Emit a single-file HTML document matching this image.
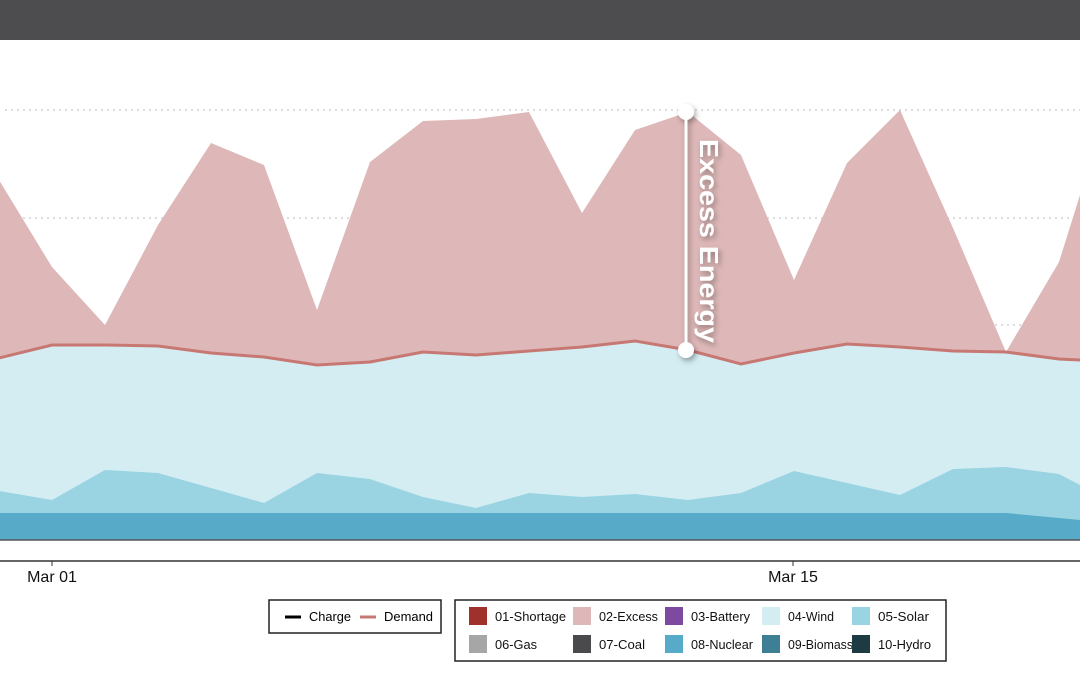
<!DOCTYPE html>
<html><head><meta charset="utf-8"><style>
html,body{margin:0;padding:0;width:1080px;height:675px;overflow:hidden;background:#fff;font-family:"Liberation Sans",sans-serif}
</style></head><body>
<svg width="1080" height="675" xmlns="http://www.w3.org/2000/svg" font-family="Liberation Sans, sans-serif">
<defs><filter id="sh" x="-50%" y="-50%" width="200%" height="200%"><feDropShadow dx="2" dy="3" stdDeviation="3" flood-color="#000" flood-opacity="0.35"/></filter></defs>
<rect x="0" y="0" width="1080" height="40" fill="#4d4d4f"/>
<g stroke="#bbb" stroke-dasharray="2,4" stroke-width="1">
<line x1="5" y1="110" x2="1080" y2="110"/><line x1="5" y1="218" x2="1080" y2="218"/><line x1="5" y1="325" x2="1080" y2="325"/>
</g>
<polygon fill="#deb8b8" points="-1,540 -1,180 52,267 105,325 158,225 211,143 264,165 317,310 370,162 423,121 476,119 529,112 582,213 635,130 688,112 741,155 794,280 847,163 900,110 953,228 1006,352 1059,262 1080,195 1080,540"/>
<polygon fill="#d4edf3" points="-1,540 -1,358 52,345 105,345 158,346 211,353 264,357 317,365 370,362 423,352 476,355 529,351 582,347 635,341 688,350 741,364 794,353 847,344 900,347 953,351 1006,352 1059,359 1080,360 1080,540"/>
<polygon fill="#9ad4e2" points="-1,540 -1,491 52,500 105,470 158,473 211,488 264,503 317,473 370,479 423,497 476,508 529,493 582,497 635,494 688,500 741,493 794,471 847,483 900,495 953,469 1006,467 1059,474 1080,485 1080,540"/>
<polygon fill="#57abc9" points="-1,540 -1,513 1006,513 1059,518 1080,520 1080,540"/>
<polyline fill="none" stroke="#c77873" stroke-width="3" points="-1,358 52,345 105,345 158,346 211,353 264,357 317,365 370,362 423,352 476,355 529,351 582,347 635,341 688,350 741,364 794,353 847,344 900,347 953,351 1006,352 1059,359 1080,360"/>
<line x1="0" y1="540" x2="1080" y2="540" stroke="#555" stroke-width="1.5"/>
<line x1="0" y1="561" x2="1080" y2="561" stroke="#333" stroke-width="1.5"/>
<line x1="52" y1="561" x2="52" y2="566" stroke="#333"/><line x1="793" y1="561" x2="793" y2="566" stroke="#333"/>
<text x="52" y="582" font-size="16" text-anchor="middle" fill="#111">Mar 01</text>
<text x="793" y="582" font-size="16" text-anchor="middle" fill="#111">Mar 15</text>
<g filter="url(#sh)">
<line x1="686" y1="112" x2="686" y2="350" stroke="#fff" stroke-width="3"/>
<circle cx="686" cy="112" r="8" fill="#fff"/><circle cx="686" cy="350" r="8" fill="#fff"/>
<text transform="translate(700,241) rotate(90)" font-size="26" font-weight="bold" fill="#fff" text-anchor="middle" textLength="204" lengthAdjust="spacingAndGlyphs">Excess Energy</text>
</g>
<rect x="269" y="600" width="172" height="33" fill="#fff" stroke="#222" stroke-width="1.5"/>
<line x1="285" y1="617" x2="301" y2="617" stroke="#000" stroke-width="3"/>
<text x="309" y="621" font-size="12.5" textLength="42" lengthAdjust="spacingAndGlyphs">Charge</text>
<line x1="360" y1="617" x2="376" y2="617" stroke="#c77873" stroke-width="3"/>
<text x="384" y="621" font-size="12.5" textLength="49" lengthAdjust="spacingAndGlyphs">Demand</text>
<rect x="455" y="600" width="491" height="61" fill="#fff" stroke="#222" stroke-width="1.5"/>
<g font-size="12.5" fill="#111" lengthAdjust="spacingAndGlyphs">
<rect x="469" y="607" width="18" height="18" fill="#a0302c"/><text x="495" y="621" textLength="71" lengthAdjust="spacingAndGlyphs">01-Shortage</text>
<rect x="573" y="607" width="18" height="18" fill="#deb8b8"/><text x="599" y="621" textLength="59" lengthAdjust="spacingAndGlyphs">02-Excess</text>
<rect x="665" y="607" width="18" height="18" fill="#7d4a9f"/><text x="691" y="621" textLength="59" lengthAdjust="spacingAndGlyphs">03-Battery</text>
<rect x="762" y="607" width="18" height="18" fill="#d4edf3"/><text x="788" y="621" textLength="46" lengthAdjust="spacingAndGlyphs">04-Wind</text>
<rect x="852" y="607" width="18" height="18" fill="#9ad4e2"/><text x="878" y="621" textLength="51" lengthAdjust="spacingAndGlyphs">05-Solar</text>
<rect x="469" y="635" width="18" height="18" fill="#a6a6a6"/><text x="495" y="649" textLength="42" lengthAdjust="spacingAndGlyphs">06-Gas</text>
<rect x="573" y="635" width="18" height="18" fill="#4a4a4c"/><text x="599" y="649" textLength="46" lengthAdjust="spacingAndGlyphs">07-Coal</text>
<rect x="665" y="635" width="18" height="18" fill="#57abc9"/><text x="691" y="649" textLength="62" lengthAdjust="spacingAndGlyphs">08-Nuclear</text>
<rect x="762" y="635" width="18" height="18" fill="#3e7f95"/><text x="788" y="649" textLength="65" lengthAdjust="spacingAndGlyphs">09-Biomass</text>
<rect x="852" y="635" width="18" height="18" fill="#1e3a43"/><text x="878" y="649" textLength="53" lengthAdjust="spacingAndGlyphs">10-Hydro</text>
</g>
</svg>
</body></html>
